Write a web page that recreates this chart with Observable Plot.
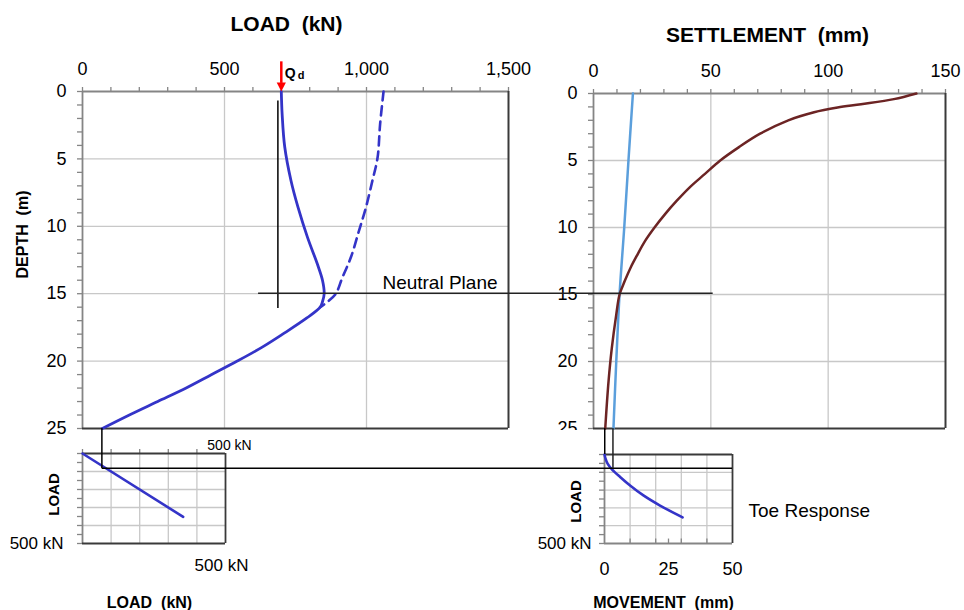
<!DOCTYPE html>
<html><head><meta charset="utf-8">
<script src="https://cdn.jsdelivr.net/npm/d3@7"></script>
<script src="https://cdn.jsdelivr.net/npm/@observablehq/plot@0.6"></script>
<style>
body{margin:0;background:#fff;}
#wrap{position:relative;width:964px;height:610px;overflow:hidden;background:#fff;}
</style></head><body><div id="wrap"></div>
<script>
// ---------- data ----------
const loadTicks = [0, 500, 1000, 1500];
const depthTicks = [0, 5, 10, 15, 20, 25];
const settlementTicks = [0, 50, 100, 150];
const movementTicks = [0, 25, 50];
const insetTickLabel = "500 kN";

const Qd = 700;
const solidDepth = [0, 1.7, 4.1, 6.6, 8.6, 10.8, 12.8, 14.0, 15.0, 15.6, 16.0, 16.8, 18.0, 19.0, 20.0, 21.0, 22.0, 23.0, 24.0, 25.0];
const solidLoad  = [700, 703, 712, 734, 759, 792, 827, 845, 851, 845, 837, 790, 705, 630, 545, 455, 365, 265, 165, 70];
const dashedDepth = [0, 2.4, 4.9, 6.6, 8.6, 10.3, 12.3, 13.8, 15.0, 15.6, 16.0];
const dashedLoad  = [1060, 1048, 1039, 1021, 998, 974, 945, 915, 892, 863, 837];
const markerLineLoad = 688, markerLineTop = 0.7, markerLineBottom = 16.1;

const soilDepth = [0, 0.42, 0.8, 1.05, 1.4, 2.0, 3.0, 4.0, 5.0, 6.0, 7.0, 8.0, 9.0, 10.0, 11.0, 12.0, 13.0, 14.0, 15.0, 16.5, 19.0, 21.5, 25];
const soilSettlement = [137.6, 128, 114, 104, 94, 83, 71, 62, 54, 47.5, 41, 35.5, 30.5, 26, 22, 18.8, 15.8, 13.3, 11.1, 9.7, 7.8, 6.4, 5.0];
const pileDepth = [0, 5, 10, 15, 20, 25];
const pileSettlement = [16.8, 14.9, 13.1, 11.1, 9.7, 8.5];

const neutralPlaneDepth = 15;
const neutralPlaneFromLoad = 620, neutralPlaneToSettlement = 51;
const toeDepth = 25, toeLoad = 70, toeLoadInset = 85;
const soilToe = 5.0, pileToe = 8.5;

const insetLoadX = [0, 352];
const insetLoadY = [0, 352];
const toeMovement = [0, 0.4, 1.2, 2.9, 6.1, 10.0, 15.2, 21.7, 30.5];
const toeMoveLoad = [0, 23, 51, 83, 126, 174, 230, 287, 353];

// ---------- style ----------
const FONT = '"Liberation Sans", Arial, Helvetica, sans-serif';
const BLUE = "#3434c8", LBLUE = "#5b9fdc", BROWN = "#6c2424", GRID = "#c8c8c8", AX = "#858585", DARK = "#3a3a3a";
const blank = () => "";
const M = {textAnchor: "middle", lineAnchor: "middle"};
const wrap = document.getElementById("wrap");
function place(el, left, top, bg) {
  el.style.position = "absolute"; el.style.left = left + "px"; el.style.top = top + "px";
  el.style.background = bg || "transparent"; wrap.appendChild(el); return el;
}
const rows = (a, b, ka, kb) => a.map((v, i) => ({[ka]: v, [kb]: b[i]}));
const downTri = {draw(ctx, size) { const r = Math.sqrt(size / Math.PI); ctx.moveTo(-r, -r); ctx.lineTo(r, -r); ctx.lineTo(0, r); ctx.closePath(); }};

// ---------- A: load vs depth ----------
const A = Plot.plot({
  width: 540, height: 440, marginLeft: 82, marginRight: 32, marginTop: 91, marginBottom: 12,
  style: {fontFamily: FONT, fontSize: "18px", color: "#000", background: "transparent", overflow: "visible"},
  x: {domain: [0, 1500], label: null},
  y: {domain: [0, 25], reverse: true, label: null},
  marks: [
    Plot.gridX([500, 1000], {stroke: GRID, strokeOpacity: 1, strokeWidth: 1.3}),
    Plot.gridY([5, 10, 15, 20], {stroke: GRID, strokeOpacity: 1, strokeWidth: 1.3}),
    Plot.axisX(d3.range(0, 1501, 100), {anchor: "top", tickSize: 5, tickFormat: blank, stroke: AX, strokeWidth: 1.3, label: null}),
    Plot.axisX(loadTicks, {anchor: "top", tickSize: 0, tickPadding: 16.5, tickFormat: d3.format(","), fill: "#000", label: null}),
    Plot.axisY(d3.range(0, 26, 1), {anchor: "left", tickSize: 5, tickFormat: blank, stroke: AX, strokeWidth: 1.3, label: null}),
    Plot.axisY(depthTicks, {anchor: "left", tickSize: 0, tickPadding: 16, fill: "#000", label: null}),
    Plot.ruleY([0], {stroke: AX, strokeWidth: 1.8}),
    Plot.ruleX([0], {stroke: AX, strokeWidth: 1.8}),
    Plot.ruleX([1500], {stroke: DARK, strokeWidth: 2}),
    Plot.ruleY([25], {stroke: DARK, strokeWidth: 2}),
    Plot.ruleX([markerLineLoad], {y1: markerLineTop, y2: markerLineBottom, stroke: "#000", strokeWidth: 1.5}),
    Plot.line(rows(dashedDepth, dashedLoad, "depth", "load"), {x: "load", y: "depth", stroke: BLUE, strokeWidth: 2.6, strokeDasharray: "9,6", curve: "catmull-rom"}),
    Plot.line(rows(solidDepth, solidLoad, "depth", "load"), {x: "load", y: "depth", stroke: BLUE, strokeWidth: 2.8, curve: "catmull-rom"}),
    Plot.ruleX([Qd], {y1: -2.2, y2: -0.6, stroke: "red", strokeWidth: 2.5, clip: false}),
    Plot.dot([Qd], {x: d => d, y: 0, dy: -4.5, r: 4.6, symbol: downTri, fill: "red", stroke: null}),
    Plot.text([Qd], {x: d => d, frameAnchor: "top", dy: -18, dx: 3.5, text: () => "Q", textAnchor: "start", lineAnchor: "middle", fontWeight: "bold", fontSize: 14}),
    Plot.text([Qd], {x: d => d, frameAnchor: "top", dy: -16, dx: 16.5, text: () => "d", textAnchor: "start", lineAnchor: "middle", fontWeight: "bold", fontSize: 11}),
    Plot.text(["Neutral Plane"], {x: 1056, y: neutralPlaneDepth, dy: -10.5, textAnchor: "start", lineAnchor: "middle", fontSize: 19}),
    Plot.text(["LOAD  (kN)"], {...M, frameAnchor: "top", dx: -9, dy: -67.5, fontWeight: "bold", fontSize: 21}),
    Plot.text(["DEPTH  (m)"], {...M, frameAnchor: "left", rotate: -90, dx: -60, dy: -25.5, fontWeight: "bold", fontSize: 16})
  ]
});
place(A, 0, 0);

// ---------- B: settlement vs depth ----------
const B = Plot.plot({
  width: 444, height: 440, marginLeft: 73, marginRight: 19, marginTop: 93, marginBottom: 12,
  style: {fontFamily: FONT, fontSize: "18px", color: "#000", background: "transparent", overflow: "visible"},
  x: {domain: [0, 150], label: null},
  y: {domain: [0, 25], reverse: true, label: null},
  marks: [
    Plot.gridX([50, 100], {stroke: GRID, strokeOpacity: 1, strokeWidth: 1.3}),
    Plot.gridY([5, 10, 15, 20], {stroke: GRID, strokeOpacity: 1, strokeWidth: 1.3}),
    Plot.axisX(d3.range(0, 151, 10), {anchor: "top", tickSize: 5, tickFormat: blank, stroke: AX, strokeWidth: 1.3, label: null}),
    Plot.axisX(settlementTicks, {anchor: "top", tickSize: 0, tickPadding: 17, fill: "#000", label: null}),
    Plot.axisY(d3.range(0, 26, 1), {anchor: "left", tickSize: 5, tickFormat: blank, stroke: AX, strokeWidth: 1.3, label: null}),
    Plot.axisY(depthTicks, {anchor: "left", tickSize: 0, tickPadding: 16, fill: "#000", label: null}),
    Plot.ruleY([0], {stroke: AX, strokeWidth: 1.8}),
    Plot.ruleX([0], {stroke: AX, strokeWidth: 1.8}),
    Plot.ruleX([150], {stroke: DARK, strokeWidth: 2}),
    Plot.ruleY([25], {stroke: DARK, strokeWidth: 2}),
    Plot.line(rows(pileDepth, pileSettlement, "depth", "s"), {x: "s", y: "depth", stroke: LBLUE, strokeWidth: 2.5, curve: "catmull-rom"}),
    Plot.line(rows(soilDepth, soilSettlement, "depth", "s"), {x: "s", y: "depth", stroke: BROWN, strokeWidth: 2.5, curve: "catmull-rom"}),
    Plot.text(["SETTLEMENT  (mm)"], {...M, frameAnchor: "top", dx: -2, dy: -58, fontWeight: "bold", fontSize: 21})
  ]
});
place(B, 520, 0);

// ---------- C: inset load vs toe load ----------
const C = Plot.plot({
  width: 260, height: 180, marginLeft: 82, marginRight: 35, marginTop: 23, marginBottom: 67,
  style: {fontFamily: FONT, fontSize: "17px", color: "#000", background: "transparent", overflow: "visible"},
  x: {domain: [0, 500], label: null},
  y: {domain: [0, 500], reverse: true, label: null},
  marks: [
    Plot.gridX([100, 200, 300, 400], {stroke: GRID, strokeOpacity: 1, strokeWidth: 1.3}),
    Plot.gridY([100, 200, 300, 400], {stroke: GRID, strokeOpacity: 1, strokeWidth: 1.3}),
    Plot.axisX(d3.range(0, 500, 100), {anchor: "top", tickSize: 5, tickFormat: blank, stroke: AX, strokeWidth: 1.3, label: null}),
    Plot.axisY(d3.range(0, 501, 50), {anchor: "left", tickSize: 5, tickFormat: blank, stroke: AX, strokeWidth: 1.3, label: null}),
    Plot.ruleX([0], {stroke: AX, strokeWidth: 1.8}),
    Plot.ruleY([0], {stroke: DARK, strokeWidth: 1.8}),
    Plot.ruleX([500], {stroke: DARK, strokeWidth: 1.8}),
    Plot.ruleY([500], {stroke: DARK, strokeWidth: 1.8}),
    Plot.line(rows(insetLoadX, insetLoadY, "a", "b"), {x: "a", y: "b", stroke: BLUE, strokeWidth: 2.6}),
    Plot.text([insetTickLabel], {frameAnchor: "bottom-left", textAnchor: "end", lineAnchor: "middle", dx: -19, fontSize: 17}),
    Plot.text([insetTickLabel], {...M, frameAnchor: "top-right", dx: 4, dy: -7.5, fontSize: 14}),
    Plot.text([insetTickLabel], {...M, frameAnchor: "bottom-right", dx: -4, dy: 22, fontSize: 17}),
    Plot.text(["LOAD"], {...M, frameAnchor: "left", rotate: -90, dx: -28, dy: -4, fontWeight: "bold", fontSize: 15}),
    Plot.text(["LOAD  (kN)"], {...M, frameAnchor: "bottom", dx: -4.5, dy: 59, fontWeight: "bold", fontSize: 16})
  ]
});
place(C, 0, 430);

// ---------- D: toe response ----------
const D = Plot.plot({
  width: 444, height: 180, marginLeft: 84, marginRight: 232, marginTop: 24, marginBottom: 67,
  style: {fontFamily: FONT, fontSize: "18px", color: "#000", background: "#fff", overflow: "visible"},
  x: {domain: [0, 50], label: null},
  y: {domain: [0, 500], reverse: true, label: null},
  marks: [
    Plot.gridX([10, 20, 30, 40], {stroke: GRID, strokeOpacity: 1, strokeWidth: 1.3}),
    Plot.gridY([100, 200, 300, 400], {stroke: GRID, strokeOpacity: 1, strokeWidth: 1.3}),
    Plot.axisY(d3.range(0, 501, 50), {anchor: "left", tickSize: 5, tickFormat: blank, stroke: AX, strokeWidth: 1.3, label: null}),
    Plot.ruleX([10, 20, 25, 30, 40], {y1: 500, y2: 475, stroke: AX, strokeWidth: 1.3}),
    Plot.axisX(movementTicks, {anchor: "bottom", tickSize: 0, tickPadding: 18.5, fill: "#000", label: null}),
    Plot.ruleX([0], {stroke: AX, strokeWidth: 1.8}),
    Plot.ruleY([500], {stroke: AX, strokeWidth: 1.8}),
    Plot.ruleY([0], {stroke: DARK, strokeWidth: 1.8}),
    Plot.ruleX([50], {stroke: DARK, strokeWidth: 1.8}),
    Plot.line(rows(toeMovement, toeMoveLoad, "m", "q"), {x: "m", y: "q", stroke: BLUE, strokeWidth: 2.6, curve: "catmull-rom"}),
    Plot.text([insetTickLabel], {frameAnchor: "bottom-left", textAnchor: "end", lineAnchor: "middle", dx: -13, fontSize: 17}),
    Plot.text(["LOAD"], {...M, frameAnchor: "left", rotate: -90, dx: -28, dy: 2.5, fontWeight: "bold", fontSize: 15}),
    Plot.text(["MOVEMENT  (mm)"], {...M, frameAnchor: "bottom", dx: -5, dy: 59, fontWeight: "bold", fontSize: 16}),
    Plot.text(["Toe Response"], {frameAnchor: "right", textAnchor: "start", lineAnchor: "middle", dx: 16, dy: 11.5, fontSize: 19})
  ]
});
place(D, 520, 430, "#fff");

// ---------- connectors (positions from the plots' own scales) ----------
const off = {A: [0, 0], B: [520, 0], C: [0, 430], D: [520, 430]};
const sx = (p, k, v) => p.scale("x").apply(v) + off[k][0];
const sy = (p, k, v) => p.scale("y").apply(v) + off[k][1];
const segs = [
  {x1: sx(A, "A", neutralPlaneFromLoad), y1: sy(A, "A", neutralPlaneDepth), x2: sx(B, "B", neutralPlaneToSettlement), y2: sy(A, "A", neutralPlaneDepth), c: "#222"},
  {x1: sx(A, "A", toeLoad), y1: sy(A, "A", toeDepth), x2: sx(A, "A", toeLoad), y2: sy(C, "C", toeLoadInset), c: "#000"},
  {x1: sx(A, "A", toeLoad), y1: sy(C, "C", toeLoadInset), x2: sx(D, "D", 50), y2: sy(C, "C", toeLoadInset), c: "#000"},
  {x1: sx(B, "B", soilToe), y1: sy(B, "B", toeDepth), x2: sx(B, "B", soilToe), y2: sy(D, "D", 0), c: "#000"},
  {x1: sx(B, "B", pileToe), y1: sy(B, "B", toeDepth), x2: sx(B, "B", pileToe), y2: sy(C, "C", toeLoadInset), c: "#222"}
];
const ov = d3.create("svg").attr("width", 964).attr("height", 610).style("pointer-events", "none");
ov.selectAll("line").data(segs).join("line")
  .attr("x1", d => d.x1).attr("y1", d => d.y1).attr("x2", d => d.x2).attr("y2", d => d.y2)
  .attr("stroke", d => d.c).attr("stroke-width", 1.5);
place(ov.node(), 0, 0);
</script>
</body></html>
